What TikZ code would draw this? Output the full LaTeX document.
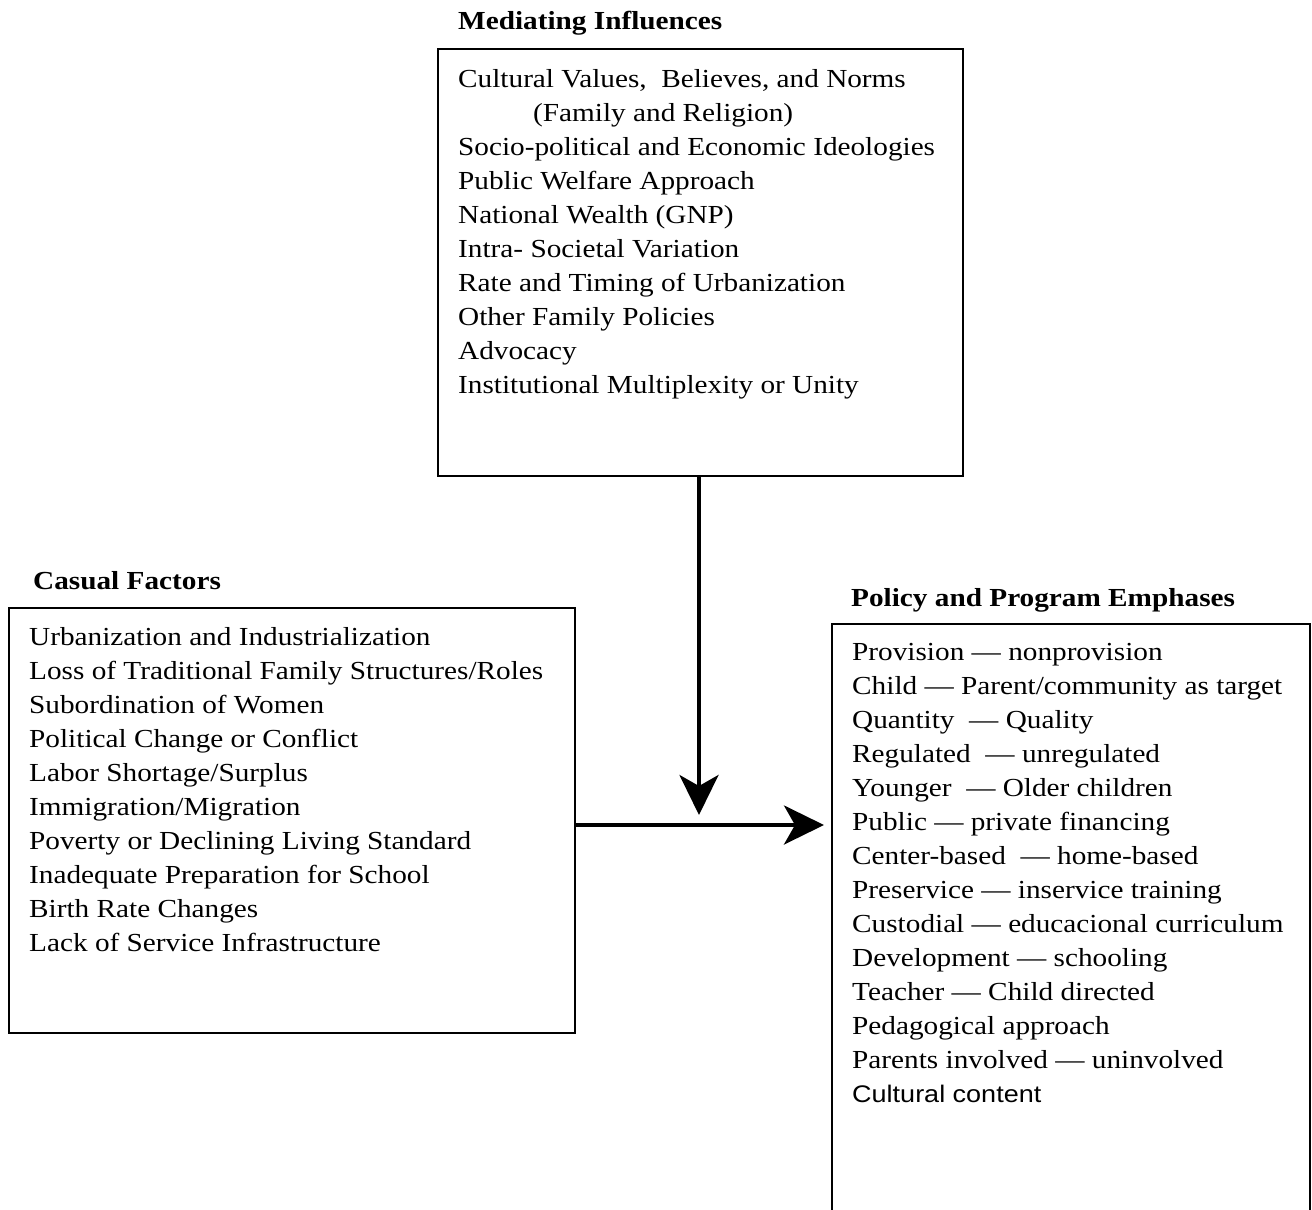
\documentclass[tikz,border=0pt]{standalone}
\usepackage{fontspec}
\setmainfont{Liberation Serif}
\newfontfamily\arialf{Liberation Sans}
\usetikzlibrary{arrows.meta}
\begin{document}
\begin{tikzpicture}[x=1pt,y=-1pt,
  txt/.style={anchor=base west,inner sep=0pt,xscale=1.125,font=\fontsize{26}{34}\selectfont},
  ttl/.style={txt,font=\fontsize{26}{34}\selectfont\bfseries},
  sanstxt/.style={txt,font=\fontsize{24}{34}\selectfont\arialf},
  frame/.style={draw,line width=2pt,inner sep=0pt,anchor=north west},
  flow/.style={line width=4pt,-{Stealth[length=40pt,width=39pt,inset=11pt]}}]
\useasboundingbox (0,0) rectangle (1312,1210);

% Mediating influences
\node[ttl] (medt) at (458,29) {Mediating Influences};
\node[frame,minimum width=525pt,minimum height=427pt] (med) at (437,48) {};
\node[txt] (m0) at (458,87) {Cultural Values,\ \ Believes, and Norms};
\node[txt] (m1) at (533,121) {(Family and Religion)};
\foreach \t [count=\i from 2] in {Socio-political and Economic Ideologies,Public Welfare Approach,National Wealth (GNP),Intra- Societal Variation,Rate and Timing of Urbanization,Other Family Policies,Advocacy,Institutional Multiplexity or Unity}
  \node[txt] (m\i) at (458,87+34*\i) {\t};

% Casual factors
\node[ttl] (cast) at (33,589) {Casual Factors};
\node[frame,minimum width=566pt,minimum height=425pt] (cas) at (8,607) {};
\foreach \t [count=\i from 0] in {Urbanization and Industrialization,Loss of Traditional Family Structures/Roles,Subordination of Women,Political Change or Conflict,Labor Shortage/Surplus,Immigration/Migration,Poverty or Declining Living Standard,Inadequate Preparation for School,Birth Rate Changes,Lack of Service Infrastructure}
  \node[txt] (c\i) at (29,645+34*\i) {\t};

% Policy and program emphases
\node[ttl] (polt) at (851,606) {Policy and Program Emphases};
\coordinate (pbl) at (832,1212);
\coordinate (ptl) at (832,624);
\coordinate (ptr) at (1310,624);
\coordinate (pbr) at (1310,1212);
\draw[line width=2pt] (pbl) -- (ptl) -- (ptr) -- (pbr);
\foreach \t [count=\i from 0] in {Provision --- nonprovision,Child --- Parent/community as target,Quantity\ \ --- Quality,Regulated\ \ --- unregulated,Younger\ \ --- Older children,Public --- private financing,Center-based\ \ --- home-based,Preservice --- inservice training,Custodial --- educacional curriculum,Development --- schooling,Teacher --- Child directed,Pedagogical approach,Parents involved --- uninvolved}
  \node[txt] (p\i) at (852,660+34*\i) {\t};
\node[sanstxt] (p13) at (852,1102) {Cultural content};

% connectors
\coordinate (vtip) at (699,815);
\coordinate (vstart) at (699,475);
\coordinate (hstart) at (574,825);
\coordinate (htip) at (824,825);
\draw[flow] (vstart) -- (vtip);
\draw[flow] (hstart) -- (htip);
\end{tikzpicture}
\end{document}
